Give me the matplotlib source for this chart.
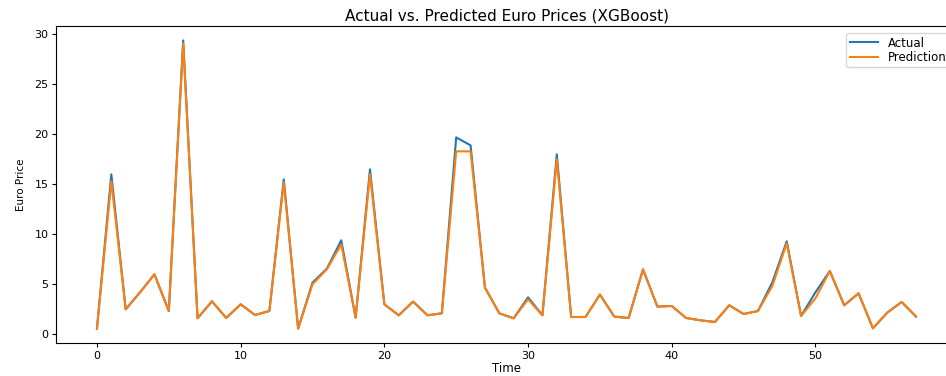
import matplotlib
matplotlib.use("Agg")
import matplotlib.pyplot as plt
import numpy as np

time = list(range(58))
actual = [0.57, 16.0, 2.5, 4.2, 6.0, 2.33, 29.4, 1.6, 3.3, 1.63,
          3.0, 1.93, 2.33, 15.5, 0.57, 5.17, 6.57, 9.4, 1.67, 16.5,
          3.0, 1.9, 3.27, 1.9, 2.1, 19.7, 18.9, 4.67, 2.1, 1.6,
          3.7, 1.9, 18.0, 1.73, 1.73, 3.97, 1.77, 1.63, 6.5, 2.77,
          2.83, 1.63, 1.4, 1.23, 2.9, 2.03, 2.33, 5.2, 9.3, 1.83,
          4.2, 6.33, 2.9, 4.1, 0.6, 2.17, 3.23, 1.77]
prediction = [0.57, 15.3, 2.5, 4.2, 6.0, 2.33, 29.1, 1.6, 3.3, 1.63,
              3.0, 1.93, 2.33, 15.2, 0.57, 5.0, 6.5, 9.0, 1.67, 16.0,
              3.0, 1.9, 3.27, 1.9, 2.1, 18.3, 18.3, 4.67, 2.1, 1.6,
              3.5, 1.9, 17.5, 1.73, 1.73, 3.97, 1.77, 1.63, 6.5, 2.77,
              2.83, 1.63, 1.4, 1.23, 2.9, 2.03, 2.33, 4.83, 9.1, 1.83,
              3.6, 6.33, 2.9, 4.1, 0.6, 2.17, 3.23, 1.77]

fig = plt.figure(figsize=(9.46, 3.76), dpi=100)
ax = fig.add_axes([56/946, 33/376, 901/946, 317/376])
ax.plot(time, actual, label="Actual", color="#1f77b4", lw=1.5)
ax.plot(time, prediction, label="Prediction", color="#ff7f0e", lw=1.5)
ax.set_title("Actual vs. Predicted Euro Prices (XGBoost)", fontsize=11, pad=4)
ax.set_xlabel("Time", fontsize=8.5, labelpad=1)
ax.set_ylabel("Euro Price", fontsize=7.5, labelpad=6)
ax.tick_params(labelsize=8, length=3, pad=2.5)
ax.legend(loc="upper right", fontsize=8.5, labelspacing=0.1,
          borderpad=0.3, handlelength=2.4, borderaxespad=0.6)
fig.savefig("out.png", dpi=100)
